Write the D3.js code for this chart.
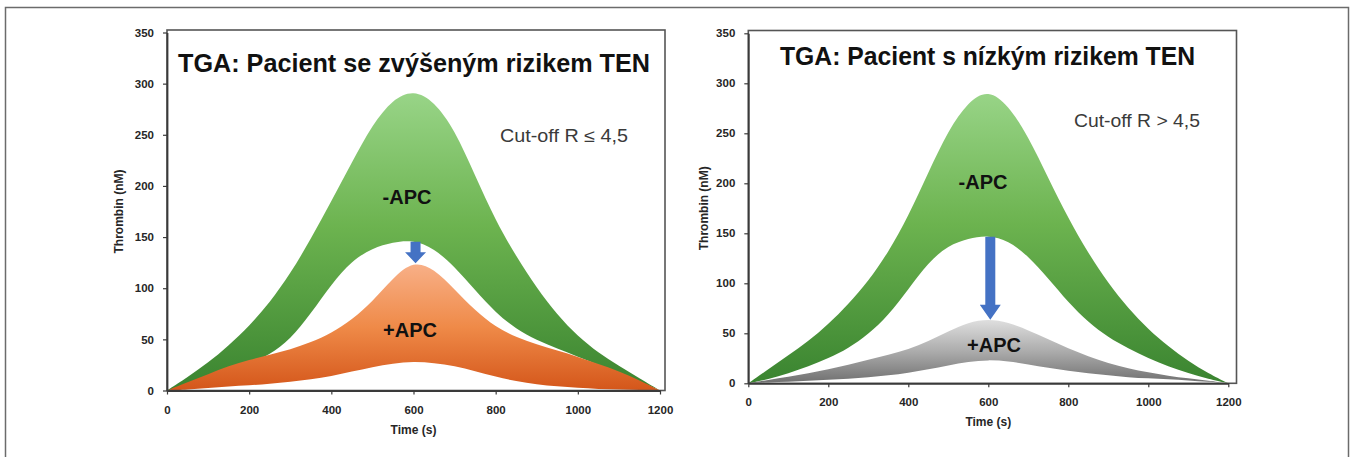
<!DOCTYPE html>
<html><head><meta charset="utf-8">
<script src="https://cdn.jsdelivr.net/npm/d3@7"></script>
<style>
html,body{margin:0;padding:0;background:#fff;}
svg{display:block;}
text{font-family:"Liberation Sans",Arial,sans-serif;}
</style></head><body>
<svg id="chart" width="1352" height="457"></svg>
<script>
// ---------- data ----------
const time = [0,50,100,150,200,250,300,350,400,450,500,550,600,650,700,750,800,850,900,950,1000,1050,1100,1150,1200];
const xTicks = [0,200,400,600,800,1000,1200];
const yTicks = [0,50,100,150,200,250,300,350];

// Left panel: patient with elevated risk
const leftMinusApcUpper = [0,13,27,44,63,86,114,148,185,223,260,285,294,283,255,210,166,131,100,74,53,37,24,12,0];
const leftMinusApcLower = [0,5,11,18,26,35,50,75,104,127,139,145,147,139,121,98,76,60,49,41,33,25,17,9,0];
const leftPlusApcUpper  = [0,8,16,24,30,35,40,47,56,69,87,110,127,119,99,78,62,52,45,39,33,26,19,10,0];
const leftPlusApcLower  = [0,1,2.5,4,5,6.5,8.5,11,14,18.5,23,26.5,28.5,27,24,19,13.5,9,6,4,2.5,1.5,1,0.5,0];

// Right panel: patient with low risk
const rightMinusApcUpper = [0,14,28,42,59,79,102,131,167,211,253,282,294,278,247,205,165,130,100,75,54,37,22,10,0];
const rightMinusApcLower = [0,4,10,17,25,35,49,68,94,121,138,145,148,143,127,105,81,61,46,35,25,17,10,4.5,0];
const rightPlusApcUpper  = [0,3.5,6.5,10,14,18.5,23.5,28.5,34,42,52,61,64.5,61,53,44,35,27,20,15,11,7.5,5,2.5,0];
const rightPlusApcLower  = [0,1,1.5,2.5,3.5,4.5,6,8,10.5,14,18,21.5,23.5,22,19,15.5,12.5,10,8,6,5,4,3,1.5,0];

const titles = ["TGA: Pacient se zvýšeným rizikem TEN", "TGA: Pacient s nízkým rizikem TEN"];
const cutoffs = ["Cut-off R \u2264 4,5", "Cut-off R > 4,5"];
const bandLabels = ["-APC", "+APC"];
const arrowLeft = [605, 145.5, 124.5];   // time, from value, to value
const arrowRight = [605, 146.5, 63.5];

// ---------- drawing ----------
const svg = d3.select("#chart");
const defs = svg.append("defs");

svg.append("rect").attr("x",5.5).attr("y",7.5).attr("width",1343).attr("height",480)
  .attr("fill","none").attr("stroke","#6b6b6b").attr("stroke-width",1.5);

function grad(id, y1, y2, stops){
  const g = defs.append("linearGradient").attr("id",id)
    .attr("gradientUnits","userSpaceOnUse").attr("x1",0).attr("x2",0).attr("y1",y1).attr("y2",y2);
  stops.forEach(s=>g.append("stop").attr("offset",s[0]).attr("stop-color",s[1]));
}

function panel(cfg){
  const x = d3.scaleLinear().domain([0,1200]).range(cfg.xr);
  const y = d3.scaleLinear().domain([0,350]).range(cfg.yr);
  const g = svg.append("g");

  grad(cfg.id+"g", y(290), y(0), [[0,"#98d487"],[0.45,"#6cb34f"],[1,"#3a8430"]]);
  grad(cfg.id+"o", y(cfg.lowPeak), y(0), cfg.lowStops);

  const band = (lo, hi) => d3.area()
    .x((d,i)=>x(time[i])).y0((d,i)=>y(lo[i])).y1((d,i)=>y(hi[i]))
    .curve(d3.curveBasis)(time);

  g.append("path").attr("d", band(cfg.gL, cfg.gU)).attr("fill","url(#"+cfg.id+"g)");
  g.append("path").attr("d", band(cfg.oL, cfg.oU)).attr("fill","url(#"+cfg.id+"o)");

  // frame
  g.append("rect").attr("x",cfg.xr[0]).attr("y",cfg.boxTop)
    .attr("width",cfg.boxRight-cfg.xr[0]).attr("height",cfg.yr[0]-cfg.boxTop)
    .attr("fill","none").attr("stroke","#555").attr("stroke-width",1.6);

  // axes
  const ax = g.append("g").attr("transform","translate(0,"+cfg.yr[0]+")")
    .call(d3.axisBottom(x).tickValues(xTicks).tickFormat(d3.format("d")).tickSize(4).tickSizeOuter(0).tickPadding(cfg.xPad));
  const ay = g.append("g").attr("transform","translate("+cfg.xr[0]+",0)")
    .call(d3.axisLeft(y).tickValues(yTicks).tickFormat(d3.format("d")).tickSize(4).tickSizeOuter(0).tickPadding(9));
  [ax,ay].forEach(a=>{
    a.select(".domain").attr("stroke","#3a3a3a").attr("stroke-width",1.8);
    a.selectAll(".tick line").attr("stroke","#3a3a3a").attr("stroke-width",1.2);
    a.selectAll(".tick text").attr("fill","#262626").attr("font-weight","bold")
      .attr("font-size",11.5).attr("font-family","'Liberation Sans',Arial,sans-serif");
  });

  // axis titles
  g.append("text").attr("x",x(600)).attr("y",cfg.timeY).attr("text-anchor","middle")
    .attr("font-size",12).attr("font-weight","bold").attr("fill","#262626").text("Time (s)");
  g.append("text").attr("transform","translate("+cfg.yLabX+","+((cfg.yr[0]+cfg.yr[1])/2)+") rotate(-90)")
    .attr("text-anchor","middle").attr("dy","0.35em").attr("font-size",12).attr("font-weight","bold")
    .attr("fill","#262626").text("Thrombin (nM)");

  // title
  g.append("text").attr("x",cfg.titleX).attr("y",cfg.titleY).attr("font-size",25)
    .attr("font-weight","bold").attr("fill","#111")
    .attr("textLength",cfg.titleW).attr("lengthAdjust","spacingAndGlyphs").text(cfg.title);
  g.append("text").attr("x",cfg.cutX).attr("y",cfg.cutY).attr("font-size",18)
    .attr("fill","#3a3a3a").attr("textLength",cfg.cutW).attr("lengthAdjust","spacingAndGlyphs").text(cfg.cut);

  // band labels
  g.append("text").attr("x",cfg.mLab[0]).attr("y",cfg.mLab[1]).attr("text-anchor","middle")
    .attr("font-size",20).attr("font-weight","bold").attr("fill","#111").text(bandLabels[0]);
  g.append("text").attr("x",cfg.pLab[0]).attr("y",cfg.pLab[1]).attr("text-anchor","middle")
    .attr("font-size",20).attr("font-weight","bold").attr("fill","#111").text(bandLabels[1]);

  // arrow
  const a = cfg.arrow;
  const ax0 = x(a[0]), yTop = y(a[1]), yTip = y(a[2]);
  const head = cfg.headLen, sw = 5, hw = 10.5;
  const pts = [[ax0-sw,yTop],[ax0+sw,yTop],[ax0+sw,yTip-head],[ax0+hw,yTip-head],[ax0,yTip],
               [ax0-hw,yTip-head],[ax0-sw,yTip-head]];
  g.append("path").attr("d","M"+pts.map(p=>p.join(",")).join("L")+"Z").attr("fill","#4472c4");
}

panel({
  id:"L", xr:[167,660], yr:[390.5,32.5], boxTop:30, boxRight:665, xPad:11,
  gU:leftMinusApcUpper, gL:leftMinusApcLower, oU:leftPlusApcUpper, oL:leftPlusApcLower,
  lowPeak:124, lowStops:[[0,"#f8b088"],[0.5,"#ef8a48"],[1,"#d4561a"]],
  timeY:434, yLabX:119, title:titles[0], titleX:178, titleY:71.5, titleW:472,
  cut:cutoffs[0], cutX:500, cutY:141.5, cutW:128,
  mLab:[407,203.5], pLab:[410,336.5], arrow:arrowLeft, headLen:11
});
panel({
  id:"R", xr:[748.3,1228.3], yr:[383.3,33.3], boxTop:30.5, boxRight:1236.5, xPad:11,
  gU:rightMinusApcUpper, gL:rightMinusApcLower, oU:rightPlusApcUpper, oL:rightPlusApcLower,
  lowPeak:63, lowStops:[[0,"#dedede"],[0.5,"#ababab"],[1,"#6f6f6f"]],
  timeY:426, yLabX:704, title:titles[1], titleX:780, titleY:65, titleW:415,
  cut:cutoffs[1], cutX:1074, cutY:127, cutW:126,
  mLab:[983,188.5], pLab:[994,351.5], arrow:arrowRight, headLen:15
});
</script>
</body></html>
